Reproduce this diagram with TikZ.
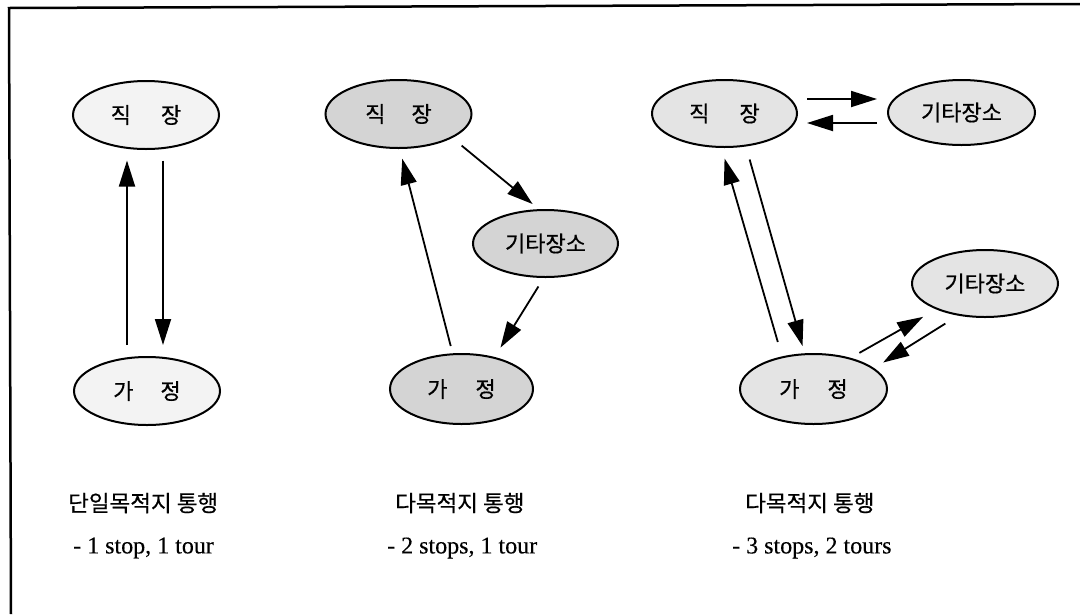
\documentclass[tikz,border=0pt]{standalone}
\usepackage{fontspec}
\setmainfont{Liberation Serif}
\newfontfamily\kr[FakeBold=0.6]{Noto Sans CJK KR}
\newfontfamily\enfont[FakeBold=0.3]{Liberation Serif}
\usetikzlibrary{arrows.meta,shapes.geometric,calc}
\definecolor{cone}{HTML}{F3F3F3}
\definecolor{ctwo}{HTML}{D4D4D4}
\definecolor{cthree}{HTML}{E4E4E4}
\tikzset{
  ell/.style={ellipse, draw=black, line width=2pt, minimum width=146pt, minimum height=68pt, inner sep=0pt, font=\kr\fontsize{22}{26}\selectfont},
  arr/.style={line width=1.8pt, -{Triangle[length=26pt,width=16pt]}},
  krlab/.style={anchor=west, inner sep=0pt, font=\kr\fontsize{22.5}{26}\selectfont},
  enlab/.style={anchor=west, inner sep=0pt, font=\enfont\fontsize{24}{28}\selectfont},
}
\begin{document}
\begin{tikzpicture}[x=1pt,y=-1pt]
\useasboundingbox (0,0) rectangle (1080,614);
% frame
\draw[line width=2.5pt] (1080,4) -- (9,8) -- (11,614);

% column 1
\node[ell, fill=cone] (j1) at (146,115) {직\hspace{30pt}장};
\node[ell, fill=cone] (g1) at (147,391) {가\hspace{27pt}정};
\draw[arr, shorten <=11pt, shorten >=10.5pt] ([xshift=-20pt]g1.north) -- ([xshift=-20pt]g1.north |- j1.south);
\draw[arr, shorten <=10.5pt, shorten >=11pt] ([xshift=17pt]j1.south) -- ([xshift=17pt]j1.south |- g1.north);

% column 2
\node[ell, fill=ctwo] (j2) at (398.5,114) {직\hspace{26pt}장};
\node[ell, fill=ctwo, minimum width=145pt, minimum height=67pt] (o2) at (545.5,243.5) {기타장소};
\node[ell, fill=ctwo, minimum width=143pt, minimum height=70pt] (g2) at (461.5,389) {가\hspace{28pt}정};
\draw[arr, shorten <=12pt, shorten >=8pt] (j2.-24.5) -- (o2.101.6);
\draw[arr, shorten <=10pt, shorten >=11pt] (o2.-93) -- (g2.44);
\draw[arr, shorten <=7.5pt, shorten >=10pt] (g2.104) -- (j2.-88);

% column 3
\node[ell, fill=cthree, minimum width=145pt, minimum height=67pt] (j3) at (724.5,113.5) {직\hspace{30pt}장};
\node[ell, fill=cthree, minimum width=147pt, minimum height=65pt] (o3) at (961.5,112.5) {기타장소};
\node[ell, fill=cthree, minimum height=67pt] (p3) at (985,283.5) {기타장소};
\node[ell, fill=cthree, minimum width=147pt, minimum height=70pt] (g3) at (813.5,389) {가\hspace{28pt}정};
\draw[arr, shorten <=9pt, shorten >=10pt] ([yshift=14.5pt]j3.east) -- ([yshift=14.5pt]j3.east -| o3.west);
\draw[arr, shorten <=10pt, shorten >=9pt] ([yshift=-9.5pt]j3.east -| o3.west) -- ([yshift=-9.5pt]j3.east);
\draw[arr, shorten <=13.5pt, shorten >=7.5pt] (j3.-57.7) -- (g3.104);
\draw[arr, shorten <=15pt, shorten >=11pt] (g3.134) -- (j3.-95.8);
\draw[arr, shorten <=10pt, shorten >=15pt] (g3.40.4) -- (p3.208);
\draw[arr, shorten <=15pt, shorten >=10.5pt] (p3.230.3) -- (g3.19);

% captions
\node[krlab] (t1) at (68,503) {단일목적지 통행};
\node[enlab] (s1) at (73,548) {- 1 stop, 1 tour};
\node[krlab] (t2) at (395,503) {다목적지 통행};
\node[enlab] (s2) at (387,548) {- 2 stops, 1 tour};
\node[krlab] (t3) at (745,503) {다목적지 통행};
\node[enlab] (s3) at (732,548) {- 3 stops, 2 tours};
\end{tikzpicture}
\end{document}
